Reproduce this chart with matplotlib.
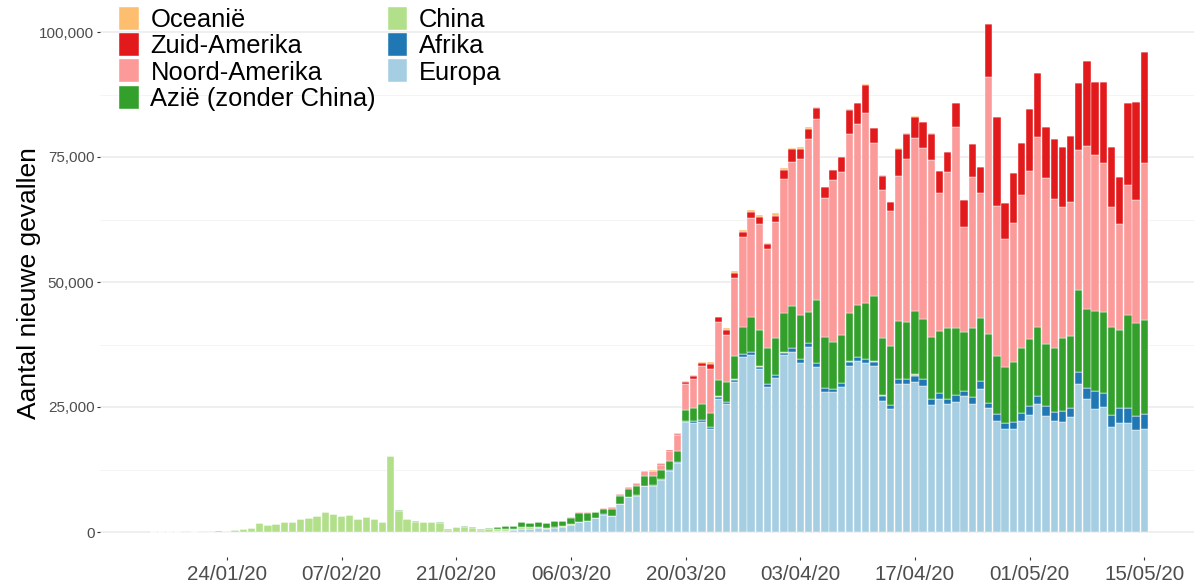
"""Dagelijkse nieuwe gevallen per continent, gestapelde staven"""
import matplotlib.pyplot as plt
import matplotlib.dates as mdates
import matplotlib.ticker as mticker
import numpy as np
import pandas as pd

plt.rcParams['font.family'] = ['Liberation Sans', 'DejaVu Sans']

# 15/01/2020 t/m 15/05/2020
dates = pd.date_range('2020-01-15', '2020-05-15', freq='D')

europa = [
    0, 0, 0, 0, 0, 0, 0, 0, 0, 0, 3, 0, 0, 4, 1, 0, 5,
    5, 4, 2, 1, 3, 2, 4, 10, 5, 3, 1, 2, 0, 1, 1, 0, 0, 0, 0, 2,
    3, 20, 60, 80, 77, 140, 220, 310, 530,
    530, 870, 650, 900, 1000, 1400, 1970, 2220, 2830, 3500, 3170, 5570,
    7030, 7290, 9200, 9250, 10450, 12230, 13800, 21930, 21870, 22100,
    20600, 26700, 25530, 29930, 35070, 35470, 32530, 29000, 30730,
    35400, 36070, 33870, 37070, 32930, 27930, 28000, 28930, 33130, 34130,
    33870, 33270, 26270, 24530, 29600, 29530, 30070, 29200, 25400, 26530,
    25530, 26070, 27200, 25530, 28530, 24730, 22270, 20530, 20530, 22200,
    23400, 25530, 23200, 22270, 21930, 22930, 29530, 26530, 24530, 25070,
    20930, 21730, 21730, 20400, 20600,
]
afrika = [
    0, 0, 0, 0, 0, 0, 0, 0, 0, 0, 0, 0, 0, 0, 0, 0, 0,
    0, 0, 0, 0, 0, 0, 0, 0, 0, 0, 0, 0, 0, 1, 0, 0, 0, 0, 0, 0,
    0, 0, 0, 0, 1, 0, 0, 1, 0,
    1, 2, 0, 5, 5, 10, 10, 15, 10, 10, 15, 20, 30, 30, 50, 60, 70, 100,
    200, 300, 330, 300, 400, 350, 500, 550, 550, 550, 530, 530, 600,
    470, 670, 670, 670, 930, 800, 530, 800, 930, 800, 670, 800, 930, 870,
    1000, 1000, 1130, 1400, 1130, 1200, 1000, 1330, 1070, 1530, 1730,
    1130, 1330, 1330, 1530, 1670,
    1870, 1730, 2000, 1670, 2270, 1930, 2400, 2200, 3670, 2670, 2470,
    3130, 3000, 2870, 2930,
]
china = [
    0, 4, 4, 17, 136, 19, 151, 140, 97, 267, 467, 667, 800, 1867, 1400,
    1667, 1933,
    2067, 2600, 2800, 3200, 4000, 3667, 3133, 3400, 2533, 3000, 2600, 2067,
    15200, 4267, 2533, 2067, 2000, 2000, 1867, 490, 950, 900, 700, 250,
    500, 410, 430, 330, 400,
    400, 200, 125, 119, 139, 143, 99, 44, 40, 19, 24, 15, 8, 11, 20, 16,
    21, 13, 34, 39, 41, 46, 39, 78, 47, 67, 55, 54, 45, 31, 48,
    36, 35, 31, 19, 30, 39, 32, 62, 63, 42, 46, 99, 108, 89, 46, 46, 330,
    27, 16, 12, 11, 30, 10, 12, 11, 12, 3, 6, 22, 4,
    12, 1, 2, 3, 1, 2, 4, 2, 1, 14, 17, 7, 15, 4, 5,
]
azie = [
    1, 0, 0, 1, 1, 3, 2, 1, 5, 4, 5, 6, 8, 10, 8, 12, 15,
    10, 8, 7, 12, 14, 30, 20, 15, 18, 10, 40, 15, 50, 40, 30, 70, 60, 70,
    80, 40, 120, 220, 280, 230, 290, 380, 480, 620, 1000,
    870, 1000, 930, 1200, 1050, 1330, 1800, 1550, 1030, 980, 1440, 1520,
    1460, 1850, 1850, 1970, 1850, 1830, 2160, 2230, 2620, 3080, 2680,
    3260, 3940, 4600, 5350, 6950, 7280, 7150, 7480,
    7830, 8430, 8890, 6290, 12490, 10290, 9470, 9600, 9600, 10350, 11280,
    13030, 11430, 11710, 11550, 11480, 12740, 11970, 12380, 12380, 14180,
    13440, 11640, 13650, 12450, 13650, 11650, 11190, 11990, 12850,
    13250, 13650, 12320, 12790, 14660, 14390, 16460, 15860, 15990, 16320,
    17660, 15520, 18660, 18460, 18860,
]
noord_amerika = [
    0, 0, 0, 0, 0, 0, 1, 0, 0, 1, 0, 3, 1, 0, 0, 0, 1,
    1, 2, 0, 0, 1, 1, 0, 0, 0, 1, 1, 0, 1, 1, 0, 0, 0, 0, 0, 0,
    20, 0, 0, 0, 5, 3, 5, 2, 10,
    10, 20, 30, 50, 77, 80, 60, 110, 150, 220, 280, 460, 380, 630, 1000,
    940, 1100, 2000, 3200, 5130, 5670, 7670, 8870, 11670, 9400, 15670,
    17930, 19870, 21270, 19800, 23130,
    26800, 28870, 31070, 34470, 36200, 27730, 32400, 32600, 35800, 36330,
    38000, 30600, 29750, 26950, 29020, 32630, 34470, 34130, 35570, 27580,
    31310, 40050, 20990, 30190, 24990, 51520, 29930, 25460, 27660, 30660,
    33720, 37990, 33190, 29790, 26060, 26790, 27990, 32590, 31190, 29790,
    23860, 21200, 25990, 24660, 31330,
]
zuid_amerika = [
    0, 0, 0, 0, 0, 0, 0, 0, 0, 0, 0, 0, 0, 0, 0, 0, 0,
    0, 0, 0, 0, 0, 0, 0, 0, 0, 0, 0, 0, 0, 0, 0, 0, 0, 0, 0, 0,
    0, 0, 0, 0, 0, 1, 0, 0, 1,
    0, 2, 3, 5, 5, 10, 10, 15, 15, 15, 10, 20, 30, 40, 60, 60, 150, 200,
    200, 400, 600, 530, 950, 850, 930, 1070, 1000, 1130, 1270, 1070, 1270,
    1930, 2470, 2070, 2070, 2270, 2200, 1870, 3000, 4930, 4130, 5470, 3000,
    2800, 1870, 5470, 5000, 4330, 5200, 5200, 4470, 3930, 4930, 5470,
    6670, 5200, 10530, 17870, 7330, 10000, 10470,
    12270, 12930, 10330, 12000, 12000, 13130, 13470, 17070, 14670, 16200,
    12000, 9470, 16470, 19670, 22200,
]
oceanie = [
    0, 0, 0, 0, 0, 0, 0, 0, 0, 0, 1, 3, 0, 1, 0, 0, 2,
    3, 1, 0, 0, 0, 0, 0, 0, 0, 0, 0, 0, 0, 0, 0, 0, 0, 0, 0, 0,
    2, 0, 0, 0, 0, 0, 0, 1, 1,
    2, 3, 8, 10, 10, 8, 10, 12, 15, 20, 20, 30, 40, 20, 30, 40, 70, 100,
    130, 130, 200, 330, 450, 130, 470, 330, 400, 330, 400, 270, 470,
    270, 330, 330, 330, 200, 80, 70, 70, 70, 70, 200, 70, 50, 50, 50, 40,
    30, 30, 30, 20, 20, 20, 10, 10, 10, 10, 10, 10, 10, 10,
    10, 15, 12, 8, 10, 12, 20, 15, 20, 10, 10, 8, 15, 20, 20,
]

# stapelvolgorde van onder naar boven
series = [
    ('Europa', europa, '#A6CEE3'),
    ('Afrika', afrika, '#1F78B4'),
    ('China', china, '#B2DF8A'),
    ('Azië (zonder China)', azie, '#33A02C'),
    ('Noord-Amerika', noord_amerika, '#FB9A99'),
    ('Zuid-Amerika', zuid_amerika, '#E31A1C'),
    ('Oceanië', oceanie, '#FDBF6F'),
]
legend_order = ['Oceanië', 'Zuid-Amerika', 'Noord-Amerika',
                'Azië (zonder China)', 'China', 'Afrika', 'Europa']


def main():
    W, H = 1194, 586
    fig = plt.figure(figsize=(W / 100, H / 100), dpi=100)
    ax = fig.add_axes([100 / W, 29 / H, 1094 / W, 557 / H])

    x = mdates.date2num(dates)
    bottom = np.zeros(len(dates))
    bars = {}
    for name, vals, col in series:
        vals = np.asarray(vals, dtype=float)
        bars[name] = ax.bar(x, vals, width=0.9, bottom=bottom, color=col,
                            edgecolor='white', linewidth=0.3, label=name)
        bottom += vals

    x0 = mdates.date2num(pd.Timestamp('2020-01-24'))
    ax.set_xlim(x0 - 15.5, x0 + 118.07)
    ax.set_ylim(-5000, 106400)

    ticks = pd.date_range('2020-01-24', '2020-05-15', freq='14D')
    ax.set_xticks(mdates.date2num(ticks))
    ax.xaxis.set_major_formatter(mdates.DateFormatter('%d/%m/%y'))

    ax.set_yticks([0, 25000, 50000, 75000, 100000])
    ax.yaxis.set_minor_locator(mticker.FixedLocator([12500, 37500, 62500, 87500]))
    ax.yaxis.set_major_formatter(mticker.FuncFormatter(lambda v, p: f'{v:,.0f}'))

    ax.set_axisbelow(True)
    ax.grid(axis='y', which='major', color='#EBEBEB', linewidth=1.1)
    ax.grid(axis='y', which='minor', color='#F2F2F2', linewidth=0.6)
    for s in ax.spines.values():
        s.set_visible(False)

    ax.tick_params(axis='y', which='major', length=2.5, width=0.8,
                   color='#333333', labelsize=11, labelcolor='#4D4D4D', pad=1.5)
    ax.tick_params(axis='x', which='major', length=2.5, width=0.8,
                   color='#333333', labelsize=14.8, labelcolor='#4D4D4D', pad=3.5)
    ax.tick_params(which='minor', length=0)

    ax.set_ylabel('Aantal nieuwe gevallen', fontsize=19, color='black')
    ax.yaxis.set_label_coords(-0.0535, 0.492)

    ax.legend([bars[n] for n in legend_order], legend_order, ncol=2,
              loc='upper left', bbox_to_anchor=(119 / W, 1 - 7 / H),
              bbox_transform=fig.transFigure, frameon=False, fontsize=18.4,
              handlelength=0.78, handleheight=1.0, handletextpad=0.45,
              labelspacing=0.04, columnspacing=0.45, borderpad=0,
              borderaxespad=0)

    fig.savefig('out.png', dpi=100)


if __name__ == '__main__':
    main()
